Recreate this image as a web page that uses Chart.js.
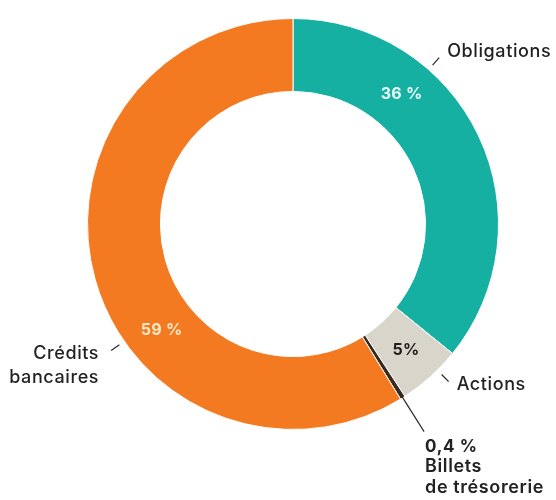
<!DOCTYPE html>
<html>
<head>
<meta charset="utf-8">
<script src="https://cdn.jsdelivr.net/npm/chart.js@4"></script>
<style>
  html, body { margin: 0; padding: 0; background: #fff; }
  #wrap { position: relative; width: 556px; height: 500px; }
</style>
</head>
<body>
<div id="wrap"><canvas id="donut" width="556" height="500"></canvas></div>
<script>
// data, clockwise from 12 o'clock
const categories = ['Obligations', 'Actions', 'Billets de trésorerie', 'Crédits bancaires'];
const shares = [36, 5, 0.4, 59];
const shareLabels = ['36 %', '5%', '0,4 %', '59 %'];
const outsideLabels = [['Obligations'], ['Actions'], ['Billets', 'de trésorerie'], ['Crédits', 'bancaires']];
const colors = ['#16b0a3', '#d8d5ca', '#3b2a1c', '#f47a22'];

// where the inside % text sits along each slice (0 = start, 1 = end)
const insideFrac = [0.31, 0.5, null, 0.39];
const insideColor = ['#eafcf9', '#1e1e1e', null, '#fde8c6'];
// angle offset (within slice) for the outside ticks
const tickFrac = [0.32, 0.35, 0.5, 0.41];

const FONT = 'Inter, "Noto Sans", sans-serif';

function pointAt(arc, angle, r) {
  return { x: arc.x + Math.cos(angle) * r, y: arc.y + Math.sin(angle) * r };
}

const labelPlugin = {
  id: 'sliceLabels',
  afterDatasetsDraw(chart) {
    const ctx = chart.ctx;
    const arcs = chart.getDatasetMeta(0).data;
    ctx.save();
    ctx.textBaseline = 'middle';

    arcs.forEach((arc, i) => {
      const span = arc.endAngle - arc.startAngle;
      const mid = (arc.innerRadius + arc.outerRadius) / 2;

      // inside percentage
      if (insideFrac[i] !== null) {
        const p = pointAt(arc, arc.startAngle + span * insideFrac[i], mid);
        ctx.font = '700 16px ' + FONT;
        ctx.letterSpacing = '0.3px';
        ctx.fillStyle = insideColor[i];
        ctx.textAlign = 'center';
        ctx.fillText(shareLabels[i], p.x, p.y);
      }

      // leader tick + outside label
      const a = arc.startAngle + span * tickFrac[i];
      ctx.strokeStyle = '#2a2a2a';
      ctx.lineWidth = 1.2;
      ctx.beginPath();
      let r0, r1;
      if (i === 2) { r0 = arc.outerRadius - 6; r1 = arc.outerRadius + 40; }
      else { r0 = arc.outerRadius + 6; r1 = arc.outerRadius + 16; }
      const s = pointAt(arc, a, r0);
      const e = pointAt(arc, a, r1);
      ctx.moveTo(s.x, s.y);
      ctx.lineTo(e.x, e.y);
      ctx.stroke();

      ctx.fillStyle = '#222';
      ctx.letterSpacing = '0.6px';
      const left = Math.cos(a) < 0;
      ctx.textAlign = left ? 'right' : 'left';
      const lines = outsideLabels[i];
      if (i === 2) {
        ctx.font = '700 17px ' + FONT;
        ctx.fillText(shareLabels[i], e.x + 1, e.y + 15);
        ctx.font = '600 18px ' + FONT;
        lines.forEach((t, k) => ctx.fillText(t, e.x + 1, e.y + 35 + k * 21));
      } else {
        ctx.font = '500 18px ' + FONT;
        const x = left ? e.x - 12 : e.x + 8;
        const y0 = e.y - (left ? -3 : 6) + (i === 1 ? 9 : 0);
        lines.forEach((t, k) => ctx.fillText(t, x, y0 + k * 24));
      }
    });
    ctx.restore();
  }
};

new Chart(document.getElementById('donut'), {
  type: 'doughnut',
  data: {
    labels: categories,
    datasets: [{
      data: shares,
      backgroundColor: colors,
      borderColor: '#ffffff',
      borderWidth: 1,
      hoverOffset: 0,
      offset: 0
    }]
  },
  options: {
    responsive: false,
    animation: false,
    cutout: '64.5%',
    layout: { padding: { left: 87, right: 57, top: 18, bottom: 70 } },
    plugins: {
      legend: { display: false },
      tooltip: { enabled: false }
    }
  },
  plugins: [labelPlugin]
});
</script>
</body>
</html>
